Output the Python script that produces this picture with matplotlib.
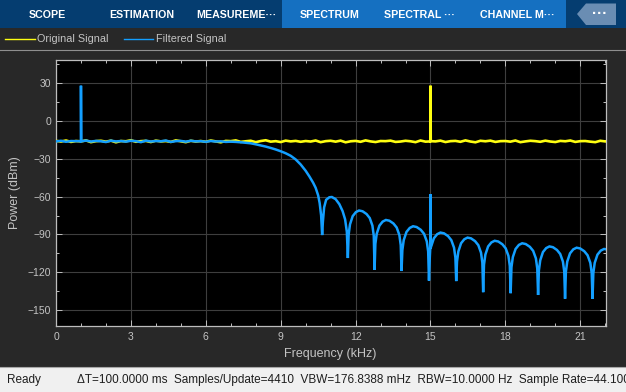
import numpy as np
import matplotlib
matplotlib.use("Agg")
import matplotlib.pyplot as plt
from matplotlib.patches import Rectangle, Polygon
from matplotlib.lines import Line2D
from matplotlib.ticker import MultipleLocator

plt.rcParams['font.family'] = ['Liberation Sans', 'DejaVu Sans']

# ---------------- data ----------------
noise_step_khz = 0.2

# Original signal: noise floor sampled every 0.2 kHz from 0 kHz, plus a 15 kHz tone
orig_noise_db = [
    -15.8, -16.3, -15.5, -16.6, -15.9, -16.2, -15.4, -16.8, -16.0, -15.7,
    -16.4, -15.6, -16.9, -15.9, -16.1, -15.3, -16.5, -16.0, -15.8, -16.7,
    -15.6, -16.2, -15.9, -16.6, -15.4, -16.1, -16.8, -15.7, -16.3, -15.9,
    -16.5, -15.5, -16.2, -16.9, -15.8, -16.0, -15.4, -16.6, -16.1, -15.7,
    -16.8, -15.9, -15.3, -16.4, -16.0, -16.7, -15.6, -16.2, -15.8, -16.5,
    -15.9, -16.3, -15.5, -16.8, -16.0, -15.7, -16.4, -15.6, -16.9, -16.1,
    -15.8, -16.5, -15.4, -16.2, -16.7, -15.9, -16.0, -15.6, -16.6, -16.3,
    -15.7, -16.1, -16.8, -15.5, -16.4, -15.9, -16.2, -15.6, -16.7, -16.0,
    -15.8, -16.5, -15.4, -16.3, -16.9, -15.7, -16.1, -15.6, -16.6, -16.0,
    -15.9, -16.4, -15.5, -16.8, -16.2, -15.7, -16.0, -16.5, -15.6, -16.3,
    -16.7, -15.8, -16.1, -15.5, -16.6, -16.0, -15.9, -16.4, -16.8, -15.7,
    -16.2,
]
orig_tone_khz = [14.99, 15.0, 15.01]
orig_tone_db = [-16.2, 28.0, -16.0]

# Filtered signal: flat pass band sampled every 0.2 kHz from 0 to 6.8 kHz
filt_flat_db = [
    -16.2, -15.7, -16.5, -15.9, -16.0, -16.6, -15.5, -16.3, -15.8, -16.1,
    -16.7, -15.6, -16.2, -15.9, -16.4, -15.7, -16.0, -16.8, -15.6, -16.3,
    -15.9, -16.1, -15.5, -16.6, -16.0, -15.8, -16.4, -15.7, -16.2, -16.0,
    -16.5, -15.9, -16.3, -16.1, -16.6,
]
filt_tone_khz = [0.99, 1.0, 1.01]
filt_tone_db = [-16.0, 28.0, -16.2]

# Filtered signal: transition band
filt_rolloff_khz = [7.0, 7.2, 7.4, 7.6, 7.8, 8.0, 8.2, 8.4, 8.6, 8.8, 9.0, 9.2,
                    9.4, 9.6, 9.8, 10.0, 10.15, 10.3, 10.4, 10.5, 10.56, 10.62, 10.66]
filt_rolloff_db = [-16.4, -16.6, -16.9, -17.3, -17.7, -18.5, -19.4, -20.3, -21.4,
                   -22.6, -24.0, -25.6, -27.6, -30.5, -34.5, -39.5, -44.0, -49.0,
                   -53.0, -59.0, -65.0, -75.0, -90.5]

# Filtered signal: stop band side lobes (incl. residual 15 kHz tone)
filt_lobe_khz = [
    10.69, 10.74, 10.82, 10.95, 11.05, 11.2, 11.35, 11.48, 11.58, 11.65, 11.69,
    11.722, 11.776, 11.883, 12.011, 12.139, 12.279, 12.439, 12.567, 12.674, 12.728, 12.76,
    12.792, 12.846, 12.954, 13.084, 13.214, 13.354, 13.516, 13.646, 13.754, 13.808, 13.84,
    13.873, 13.928, 14.038, 14.17, 14.302, 14.445, 14.61, 14.742, 14.852, 14.907, 14.94,
    14.973, 14.99, 15.0, 15.01, 15.027, 15.136, 15.267, 15.398, 15.54, 15.703, 15.834,
    15.943, 15.998, 16.03,
    16.062, 16.116, 16.224, 16.354, 16.484, 16.624, 16.786, 16.916, 17.024, 17.078, 17.11,
    17.143, 17.198, 17.308, 17.44, 17.572, 17.715, 17.88, 18.012, 18.122, 18.177, 18.21,
    18.243, 18.298, 18.408, 18.54, 18.672, 18.815, 18.98, 19.112, 19.222, 19.277, 19.31,
    19.342, 19.396, 19.504, 19.634, 19.764, 19.904, 20.066, 20.196, 20.304, 20.358, 20.39,
    20.423, 20.478, 20.588, 20.72, 20.852, 20.995, 21.16, 21.292, 21.402, 21.457, 21.49,
    21.523, 21.578, 21.688, 21.82, 21.952, 22.05,
]
filt_lobe_db = [
    -80.0, -68.5, -62.5, -60.5, -60.3, -62.0, -66.0, -71.5, -78.0, -88.0, -108.7,
    -90.0, -82.0, -75.5, -72.3, -71.0, -71.6, -73.8, -77.0, -83.0, -91.0, -118.0,
    -97.5, -89.5, -83.0, -79.8, -78.5, -79.1, -81.3, -84.5, -90.5, -98.5, -119.0,
    -102.5, -94.5, -88.0, -84.8, -83.5, -84.1, -86.3, -89.5, -95.5, -103.5, -126.6,
    -107.5, -101.0, -58.0, -99.0, -99.5, -93.0, -89.8, -88.5, -89.1, -91.3, -94.5,
    -100.5, -108.5, -127.0,
    -111.5, -103.5, -97.0, -93.8, -92.5, -93.1, -95.3, -98.5, -104.5, -112.5, -135.8,
    -114.0, -106.0, -99.5, -96.3, -95.0, -95.6, -97.8, -101.0, -107.0, -115.0, -136.6,
    -116.0, -108.0, -101.5, -98.3, -97.0, -97.6, -99.8, -103.0, -109.0, -117.0, -138.0,
    -118.5, -110.5, -104.0, -100.8, -99.5, -100.1, -102.3, -105.5, -111.5, -119.5, -141.0,
    -119.5, -111.5, -105.0, -101.8, -100.5, -101.1, -103.3, -106.5, -112.5, -120.5, -141.0,
    -120.5, -112.5, -106.0, -102.8, -101.5, -101.8,
]

x_ticks = [0, 3, 6, 9, 12, 15, 18, 21]
y_ticks = [-150, -120, -90, -60, -30, 0, 30]
series_names = ["Original Signal", "Filtered Signal"]
tab_names = ["SCOPE", "ESTIMATION", "MEASUREME\u00b7\u00b7\u00b7", "SPECTRUM",
             "SPECTRAL \u00b7\u00b7\u00b7", "CHANNEL M\u00b7\u00b7\u00b7"]
status_parts = ["\u0394T=100.0000 ms", "Samples/Update=4410", "VBW=176.8388 mHz",
                "RBW=10.0000 Hz", "Sample Rate=44.1000 kHz"]

# ---------------- assemble series ----------------
def merge(f_a, d_a, f_b, d_b):
    f = np.concatenate([np.asarray(f_a, float), np.asarray(f_b, float)])
    d = np.concatenate([np.asarray(d_a, float), np.asarray(d_b, float)])
    idx = np.argsort(f, kind="stable")
    return f[idx], d[idx]

orig_grid = np.arange(len(orig_noise_db)) * noise_step_khz
orig_f, orig_d = merge(orig_grid, orig_noise_db, orig_tone_khz, orig_tone_db)
orig_f = np.append(orig_f, 22.05)
orig_d = np.append(orig_d, orig_noise_db[-1])

flat_grid = np.arange(len(filt_flat_db)) * noise_step_khz
filt_f, filt_d = merge(flat_grid, filt_flat_db, filt_tone_khz, filt_tone_db)
filt_f = np.concatenate([filt_f, filt_rolloff_khz, filt_lobe_khz])
filt_d = np.concatenate([filt_d, filt_rolloff_db, filt_lobe_db])

# ---------------- figure ----------------
W, H = 626, 392
BG = '#282828'
TXT = '#c4c4c4'
YEL = '#ffff11'
BLU = '#139fff'

fig = plt.figure(figsize=(W / 100, H / 100), dpi=100, facecolor=BG)

def fx(x):
    return x / W

def fy(y):
    return 1 - y / H

# toolbar
fig.patches.append(Rectangle((0, fy(28)), 1, 28 / H, transform=fig.transFigure,
                             facecolor='#053d70', edgecolor='none', zorder=0))
fig.patches.append(Rectangle((fx(282), fy(28)), (566 - 282) / W, 28 / H,
                             transform=fig.transFigure, facecolor='#1570c1',
                             edgecolor='none', zorder=1))
fig.patches.append(Polygon([(fx(577), fy(14)), (fx(586), fy(3.5)), (fx(616), fy(3.5)),
                            (fx(616), fy(25)), (fx(586), fy(25))], closed=True,
                           transform=fig.transFigure, facecolor='#6a8db3',
                           edgecolor='none', zorder=2))
fig.text(fx(600), fy(13.5), "\u00b7\u00b7\u00b7", color='white', fontsize=11,
         fontweight='bold', ha='center', va='center')
tab_x = [47, 141.6, 236, 330, 419, 517]
for name, x in zip(tab_names, tab_x):
    fig.text(fx(x), fy(15), name, color='white', fontsize=7.7, ha='center',
             va='center', fontweight='bold')

# legend strip
legend_line_x = [(5, 35), (124, 153)]
legend_text_x = [37, 156]
for (x0, x1), tx, name, col in zip(legend_line_x, legend_text_x, series_names, [YEL, BLU]):
    fig.lines.append(Line2D([fx(x0), fx(x1)], [fy(39.3), fy(39.3)], transform=fig.transFigure,
                            color=col, lw=1.0))
    fig.text(fx(tx), fy(39.3), name, color=TXT, fontsize=7.8, ha='left', va='center')
fig.lines.append(Line2D([0, 1], [fy(50.3), fy(50.3)], transform=fig.transFigure,
                        color='#8f8f8f', lw=0.8))

# status bar
fig.patches.append(Rectangle((0, 0), 1, 25 / H, transform=fig.transFigure,
                             facecolor='#f0f0f0', edgecolor='none', zorder=0))
fig.lines.append(Line2D([0, 1], [fy(367), fy(367)], transform=fig.transFigure,
                        color='#a8a8a8', lw=0.8))
fig.text(fx(7), fy(380), "Ready", color='#1e1e1e', fontsize=8.5, ha='left', va='center')
fig.text(fx(77), fy(380), "  ".join(status_parts), color='#1e1e1e', fontsize=8.5,
         ha='left', va='center')

# axes
left, right, top, bottom = 56, 606.5, 59.7, 326
ax = fig.add_axes([fx(left), fy(bottom), (right - left) / W, (bottom - top) / H])
ax.set_facecolor('black')
ax.plot(orig_f, orig_d, color=YEL, lw=1.9, solid_joinstyle='miter', zorder=3)
ax.plot(filt_f, filt_d, color=BLU, lw=1.8, solid_joinstyle='miter', zorder=4)

ax.set_xlim(0, 22.05)
ax.set_ylim(-162.6, 48.6)
ax.set_xticks(x_ticks)
ax.set_yticks(y_ticks)
ax.xaxis.set_minor_locator(MultipleLocator(1))
ax.yaxis.set_minor_locator(MultipleLocator(15))
ax.grid(True, which='major', color='#3e3e3e', lw=0.8)
ax.set_axisbelow(True)
ax.tick_params(which='both', direction='in', top=True, right=True, colors='#c0c0c0',
               labelcolor=TXT, labelsize=7.5)
ax.tick_params(which='major', length=4.5, width=0.7)
ax.tick_params(which='minor', length=2.5, width=0.7)
ax.tick_params(axis='x', pad=4)
ax.tick_params(axis='y', pad=3.5)
for sp in ax.spines.values():
    sp.set_color('#bdbdbd')
    sp.set_linewidth(0.9)

xl = ax.set_xlabel("Frequency (kHz)", color=TXT, fontsize=9)
yl = ax.set_ylabel("Power (dBm)", color=TXT, fontsize=9)
xl.set_va('center')
yl.set_va('center')
ax.xaxis.set_label_coords((330.5 - left) / (right - left), (bottom - 354.5) / (bottom - top))
ax.yaxis.set_label_coords((14.7 - left) / (right - left), 0.5)

fig.savefig("out.png", dpi=100, facecolor=BG)
